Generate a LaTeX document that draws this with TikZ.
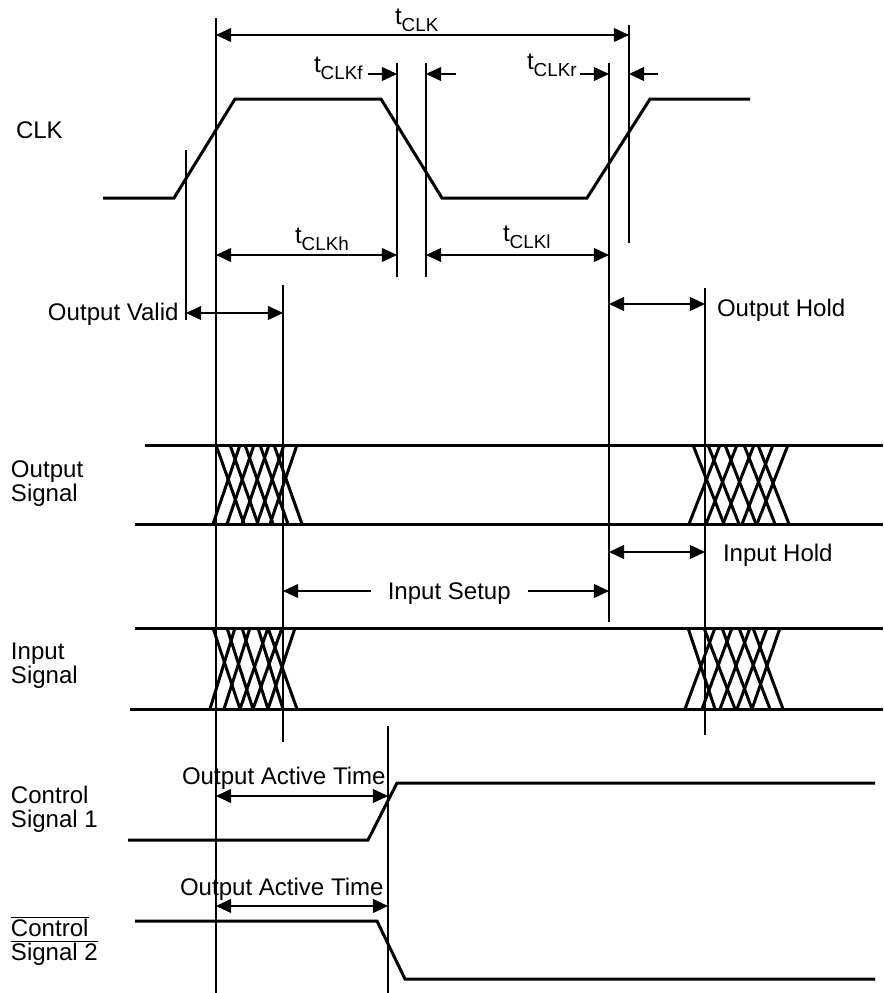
\documentclass[tikz,border=0pt]{standalone}
\usepackage{fontspec}
\setmainfont{Liberation Sans}
\usetikzlibrary{arrows.meta}
\newcommand{\tsub}[1]{t\raisebox{-0.3em}{\fontsize{13.4}{16}\selectfont #1}}
\tikzset{
	sig/.style={line width=0.075cm, line join=miter},
	tick/.style={line width=0.03cm},
	dim/.style={line width=0.03cm, -{Triangle[length=0.38cm, width=0.35cm]}},
	ddim/.style={dim, {Triangle[length=0.38cm, width=0.35cm]}-{Triangle[length=0.38cm, width=0.35cm]}},
	lbl/.style={font=\fontsize{17.1}{17.1}\selectfont, inner sep=0pt, outer sep=0pt, align=left},
}
\begin{document}
\begin{tikzpicture}[x=0.025cm, y=-0.025cm]
	\useasboundingbox (0,0) rectangle (883,993);
	% tick lines
	\draw[tick] (216,18) -- (216,993);
	\draw[tick] (186,150) -- (186,320);
	\draw[tick] (283,285) -- (283,742);
	\draw[tick] (397,63) -- (397,277);
	\draw[tick] (426,63) -- (426,277);
	\draw[tick] (609,63) -- (609,622);
	\draw[tick] (629,25) -- (629,243);
	\draw[tick] (705,288) -- (705,735);
	\draw[tick] (388,726) -- (388,993);
	% signals
	\draw[sig] (103,198) -- (174,198) -- (235,99) -- (381,99) -- (442,198) -- (587,198) -- (650,99) -- (750,99);
	\draw[sig] (145,445) -- (883,445);
	\draw[sig] (135,524) -- (883,524);
	\draw[sig] (135,628) -- (883,628);
	\draw[sig] (130,709) -- (883,709);
	\draw[sig] (128,840) -- (368,840) -- (397,783) -- (875,783);
	\draw[sig] (135,921) -- (377,921) -- (405,979) -- (875,979);
	% crossings
	\foreach \a/\b in {216/244,230/258,245/273,260/288,274/302, 240/213,254/227,269/242,284/257,297/270}
		\draw[sig] (\a,445) -- (\b,524);
	\foreach \a/\b in {693/724,708/739,725/756,744/775,758/789, 720/689,737/706,754/723,773/742,788/757}
		\draw[sig] (\a,445) -- (\b,524);
	\foreach \a/\b in {213/240,227/253,242/268,258/283,268/297, 235/210,250/224,268/240,282/253,295/268}
		\draw[sig] (\a,628) -- (\b,709);
	\foreach \a/\b in {688/715,704/735,722/752,739/770,753/783, 715/685,732/702,750/720,767/737,780/752}
		\draw[sig] (\a,628) -- (\b,709);
	% dimension ends
	\coordinate (clkl) at (216,35);
	\coordinate (clkr) at (629,35);
	\coordinate (fa) at (368,74);
	\coordinate (fb) at (397,74);
	\coordinate (fc) at (456,74);
	\coordinate (fd) at (426,74);
	\coordinate (ra) at (580,74);
	\coordinate (rb) at (609,74);
	\coordinate (rc) at (658,74);
	\coordinate (rd) at (629,74);
	\coordinate (hl) at (216,255);
	\coordinate (hr) at (397,255);
	\coordinate (ll) at (426,255);
	\coordinate (lr) at (609,255);
	\coordinate (ovl) at (186,313);
	\coordinate (ovr) at (283,313);
	\coordinate (ohl) at (609,304);
	\coordinate (ohr) at (705,304);
	\coordinate (ihl) at (609,552);
	\coordinate (ihr) at (705,552);
	\coordinate (isl) at (283,591);
	\coordinate (isr) at (609,591);
	\coordinate (oal) at (216,796);
	\coordinate (oar) at (388,796);
	\coordinate (obl) at (216,906);
	\coordinate (obr) at (388,906);
	\draw[ddim] (clkl) -- (clkr);
	\draw[dim] (fa) -- (fb);
	\draw[dim] (fc) -- (fd);
	\draw[dim] (ra) -- (rb);
	\draw[dim] (rc) -- (rd);
	\draw[ddim] (hl) -- (hr);
	\draw[ddim] (ll) -- (lr);
	\draw[ddim] (ovl) -- (ovr);
	\draw[ddim] (ohl) -- (ohr);
	\draw[ddim] (ihl) -- (ihr);
	\draw[ddim] (isl) -- (isr) node[lbl, pos=0.51, yshift=-2pt, fill=white, inner xsep=0.42cm, inner ysep=2pt] (setup) {Input Setup};
	\draw[ddim] (oal) -- (oar);
	\draw[ddim] (obl) -- (obr);
	% labels
	\node[lbl, anchor=base west] at (395,24) (tclk) {\tsub{CLK}};
	\node[lbl, anchor=base west] at (314,72) (tclkf) {\tsub{CLKf}};
	\node[lbl, anchor=base west] at (527,69) (tclkr) {\tsub{CLKr}};
	\node[lbl, anchor=base west] at (295,243) (tclkh) {\tsub{CLKh}};
	\node[lbl, anchor=base west] at (503,241) (tclkl) {\tsub{CLKl}};
	\node[lbl, anchor=base west] at (16,138) (clk) {CLK};
	\node[lbl, anchor=base west] at (48,320) (ovalid) {Output Valid};
	\node[lbl, anchor=base west] at (717,316) (ohold) {Output Hold};
	\node[lbl, anchor=base west] at (723,561) (ihold) {Input Hold};
	\node[lbl, anchor=base west] at (182,784) (oacta) {Output Active Time};
	\node[lbl, anchor=base west] at (180,895) (oactb) {Output Active Time};
	\node[lbl, anchor=north west] at (11,461) (osig) {Output\\Signal};
	\node[lbl, anchor=north west] at (11,643) (isig) {Input\\Signal};
	\node[lbl, anchor=north west] at (11,786) (csa) {Control\\Signal 1};
	\node[lbl, anchor=north west] at (11,916) (csb) {$\overline{\hbox{Control}}$\\$\overline{\hbox{Signal 2}}$};
\end{tikzpicture}
\end{document}
